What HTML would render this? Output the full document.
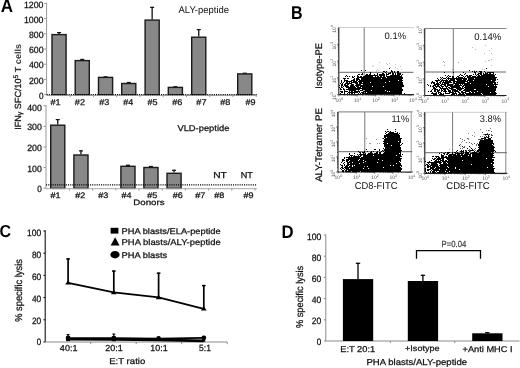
<!DOCTYPE html>
<html><head><meta charset="utf-8"><style>
html,body{margin:0;padding:0;background:#fff;width:520px;height:368px;overflow:hidden}
svg{display:block;filter:grayscale(1) blur(0.3px)}
text{font-family:"Liberation Sans",sans-serif;text-rendering:geometricPrecision;stroke:currentColor;stroke-width:0.25px}text[font-weight]{stroke-width:0}
</style></head><body>
<svg width="520" height="368" viewBox="0 0 520 368">
<rect width="520" height="368" fill="#fff"/>
<text x="0.77" y="12.43" font-size="18.22" textLength="12.29" lengthAdjust="spacingAndGlyphs" fill="#000" color="#000" font-weight="bold" style="stroke-width:0">A</text>
<text x="291.06" y="19.32" font-size="18.66" textLength="11.60" lengthAdjust="spacingAndGlyphs" fill="#000" color="#000" font-weight="bold" style="stroke-width:0">B</text>
<text x="-0.44" y="237.22" font-size="17.39" textLength="11.58" lengthAdjust="spacingAndGlyphs" fill="#000" color="#000" font-weight="bold" style="stroke-width:0">C</text>
<text x="281.41" y="238.22" font-size="18.22" textLength="12.10" lengthAdjust="spacingAndGlyphs" fill="#000" color="#000" font-weight="bold" style="stroke-width:0">D</text>
<line x1="46.6" y1="2.6" x2="46.6" y2="95" stroke="#9a9a9a" stroke-width="1"/>
<line x1="44.1" y1="94.6" x2="46.6" y2="94.6" stroke="#9a9a9a" stroke-width="1"/>
<text x="38.98" y="98.72" font-size="9.11" textLength="4.55" lengthAdjust="spacingAndGlyphs" fill="#111" color="#111">0</text>
<line x1="44.1" y1="79.39999999999999" x2="46.6" y2="79.39999999999999" stroke="#9a9a9a" stroke-width="1"/>
<text x="28.94" y="83.52" font-size="9.11" textLength="14.64" lengthAdjust="spacingAndGlyphs" fill="#111" color="#111">200</text>
<line x1="44.1" y1="64.19999999999999" x2="46.6" y2="64.19999999999999" stroke="#9a9a9a" stroke-width="1"/>
<text x="28.93" y="68.32" font-size="9.11" textLength="14.65" lengthAdjust="spacingAndGlyphs" fill="#111" color="#111">400</text>
<line x1="44.1" y1="49.0" x2="46.6" y2="49.0" stroke="#9a9a9a" stroke-width="1"/>
<text x="28.94" y="53.12" font-size="9.11" textLength="14.64" lengthAdjust="spacingAndGlyphs" fill="#111" color="#111">600</text>
<line x1="44.1" y1="33.8" x2="46.6" y2="33.8" stroke="#9a9a9a" stroke-width="1"/>
<text x="28.94" y="37.92" font-size="9.11" textLength="14.64" lengthAdjust="spacingAndGlyphs" fill="#111" color="#111">800</text>
<line x1="44.1" y1="18.599999999999994" x2="46.6" y2="18.599999999999994" stroke="#9a9a9a" stroke-width="1"/>
<text x="23.88" y="22.72" font-size="9.11" textLength="19.67" lengthAdjust="spacingAndGlyphs" fill="#111" color="#111">1000</text>
<line x1="44.1" y1="3.4000000000000057" x2="46.6" y2="3.4000000000000057" stroke="#9a9a9a" stroke-width="1"/>
<text x="23.88" y="7.53" font-size="9.11" textLength="19.67" lengthAdjust="spacingAndGlyphs" fill="#111" color="#111">1200</text>
<line x1="59.05" y1="32.0" x2="59.05" y2="33.9" stroke="#111" stroke-width="1.3"/>
<line x1="57.05" y1="32.6" x2="61.05" y2="32.6" stroke="#111" stroke-width="1.2"/>
<rect x="52.00" y="34.60" width="14.10" height="60.20" fill="#888" stroke="#1a1a1a" stroke-width="1.4"/>
<rect x="80.25" y="58.80" width="4.00" height="1.60" fill="#111"/>
<rect x="75.20" y="60.60" width="14.10" height="34.20" fill="#888" stroke="#1a1a1a" stroke-width="1.4"/>
<rect x="103.55" y="76.20" width="4.00" height="1.00" fill="#111"/>
<rect x="98.50" y="77.40" width="14.10" height="17.40" fill="#888" stroke="#1a1a1a" stroke-width="1.4"/>
<rect x="126.75" y="81.90" width="4.00" height="1.40" fill="#111"/>
<rect x="121.70" y="83.50" width="14.10" height="11.30" fill="#888" stroke="#1a1a1a" stroke-width="1.4"/>
<line x1="152.15" y1="6.8" x2="152.15" y2="19.4" stroke="#111" stroke-width="1.3"/>
<line x1="150.15" y1="7.3999999999999995" x2="154.15" y2="7.3999999999999995" stroke="#111" stroke-width="1.2"/>
<rect x="145.10" y="20.10" width="14.10" height="74.70" fill="#888" stroke="#1a1a1a" stroke-width="1.4"/>
<rect x="173.35" y="86.10" width="4.00" height="1.10" fill="#111"/>
<rect x="168.30" y="87.40" width="14.10" height="7.40" fill="#888" stroke="#1a1a1a" stroke-width="1.4"/>
<line x1="198.75" y1="29.0" x2="198.75" y2="36.5" stroke="#111" stroke-width="1.3"/>
<line x1="196.75" y1="29.6" x2="200.75" y2="29.6" stroke="#111" stroke-width="1.2"/>
<rect x="191.70" y="37.20" width="14.10" height="57.60" fill="#888" stroke="#1a1a1a" stroke-width="1.4"/>
<rect x="242.75" y="72.60" width="4.00" height="1.10" fill="#111"/>
<rect x="237.70" y="73.90" width="14.10" height="20.90" fill="#888" stroke="#1a1a1a" stroke-width="1.4"/>
<line x1="46.6" y1="95.4" x2="257" y2="95.4" stroke="#a8a8a8" stroke-width="1"/>
<line x1="46.6" y1="94.6" x2="257" y2="94.6" stroke="#000" stroke-width="1.3" stroke-dasharray="1.1 1.1"/>
<line x1="70.2" y1="95" x2="70.2" y2="97" stroke="#999" stroke-width="1"/>
<line x1="93.45" y1="95" x2="93.45" y2="97" stroke="#999" stroke-width="1"/>
<line x1="116.7" y1="95" x2="116.7" y2="97" stroke="#999" stroke-width="1"/>
<line x1="139.95" y1="95" x2="139.95" y2="97" stroke="#999" stroke-width="1"/>
<line x1="163.2" y1="95" x2="163.2" y2="97" stroke="#999" stroke-width="1"/>
<line x1="186.45" y1="95" x2="186.45" y2="97" stroke="#999" stroke-width="1"/>
<line x1="209.7" y1="95" x2="209.7" y2="97" stroke="#999" stroke-width="1"/>
<line x1="232.95" y1="95" x2="232.95" y2="97" stroke="#999" stroke-width="1"/>
<line x1="256.2" y1="95" x2="256.2" y2="97" stroke="#999" stroke-width="1"/>
<text x="50.55" y="104.83" font-size="8.39" textLength="10.12" lengthAdjust="spacingAndGlyphs" fill="#111" color="#111">#1</text>
<text x="74.85" y="104.83" font-size="8.39" textLength="10.12" lengthAdjust="spacingAndGlyphs" fill="#111" color="#111">#2</text>
<text x="99.35" y="104.83" font-size="8.39" textLength="10.07" lengthAdjust="spacingAndGlyphs" fill="#111" color="#111">#3</text>
<text x="123.26" y="104.83" font-size="8.39" textLength="9.93" lengthAdjust="spacingAndGlyphs" fill="#111" color="#111">#4</text>
<text x="147.45" y="104.83" font-size="8.39" textLength="10.03" lengthAdjust="spacingAndGlyphs" fill="#111" color="#111">#5</text>
<text x="172.25" y="104.83" font-size="8.39" textLength="10.07" lengthAdjust="spacingAndGlyphs" fill="#111" color="#111">#6</text>
<text x="196.35" y="104.83" font-size="8.39" textLength="10.12" lengthAdjust="spacingAndGlyphs" fill="#111" color="#111">#7</text>
<text x="220.35" y="104.83" font-size="8.39" textLength="10.03" lengthAdjust="spacingAndGlyphs" fill="#111" color="#111">#8</text>
<text x="245.55" y="104.83" font-size="8.39" textLength="10.07" lengthAdjust="spacingAndGlyphs" fill="#111" color="#111">#9</text>
<text x="178.55" y="13.12" font-size="9.67" textLength="50.50" lengthAdjust="spacingAndGlyphs" fill="#111" color="#111" style="stroke-width:0">ALY-peptide</text>
<line x1="46.0" y1="105" x2="46.0" y2="188.6" stroke="#9a9a9a" stroke-width="1"/>
<line x1="43.4" y1="188.2" x2="46.0" y2="188.2" stroke="#9a9a9a" stroke-width="1"/>
<text x="37.18" y="192.22" font-size="9.11" textLength="4.55" lengthAdjust="spacingAndGlyphs" fill="#111" color="#111">0</text>
<line x1="43.4" y1="167.6" x2="46.0" y2="167.6" stroke="#9a9a9a" stroke-width="1"/>
<text x="27.15" y="171.62" font-size="9.11" textLength="14.64" lengthAdjust="spacingAndGlyphs" fill="#111" color="#111">100</text>
<line x1="43.4" y1="147.0" x2="46.0" y2="147.0" stroke="#9a9a9a" stroke-width="1"/>
<text x="27.14" y="151.02" font-size="9.11" textLength="14.64" lengthAdjust="spacingAndGlyphs" fill="#111" color="#111">200</text>
<line x1="43.4" y1="126.39999999999998" x2="46.0" y2="126.39999999999998" stroke="#9a9a9a" stroke-width="1"/>
<text x="27.14" y="130.42" font-size="9.11" textLength="14.65" lengthAdjust="spacingAndGlyphs" fill="#111" color="#111">300</text>
<line x1="43.4" y1="105.79999999999998" x2="46.0" y2="105.79999999999998" stroke="#9a9a9a" stroke-width="1"/>
<text x="27.13" y="110.92" font-size="9.11" textLength="14.65" lengthAdjust="spacingAndGlyphs" fill="#111" color="#111">400</text>
<line x1="57.75" y1="119.0" x2="57.75" y2="124.5" stroke="#111" stroke-width="1.3"/>
<line x1="55.75" y1="119.6" x2="59.75" y2="119.6" stroke="#111" stroke-width="1.2"/>
<rect x="50.70" y="125.20" width="14.10" height="63.20" fill="#888" stroke="#1a1a1a" stroke-width="1.4"/>
<line x1="80.95" y1="150.3" x2="80.95" y2="154.3" stroke="#111" stroke-width="1.3"/>
<line x1="78.95" y1="150.9" x2="82.95" y2="150.9" stroke="#111" stroke-width="1.2"/>
<rect x="73.90" y="155.00" width="14.10" height="33.40" fill="#888" stroke="#1a1a1a" stroke-width="1.4"/>
<rect x="125.95" y="164.60" width="4.00" height="1.50" fill="#111"/>
<rect x="120.90" y="166.30" width="14.10" height="22.10" fill="#888" stroke="#1a1a1a" stroke-width="1.4"/>
<rect x="148.95" y="165.90" width="4.00" height="1.40" fill="#111"/>
<rect x="143.90" y="167.50" width="14.10" height="20.90" fill="#888" stroke="#1a1a1a" stroke-width="1.4"/>
<line x1="174.05" y1="169.7" x2="174.05" y2="172.6" stroke="#111" stroke-width="1.3"/>
<line x1="172.05" y1="170.29999999999998" x2="176.05" y2="170.29999999999998" stroke="#111" stroke-width="1.2"/>
<rect x="167.00" y="173.30" width="14.10" height="15.10" fill="#888" stroke="#1a1a1a" stroke-width="1.4"/>
<line x1="46.0" y1="188.7" x2="257" y2="188.7" stroke="#a8a8a8" stroke-width="1"/>
<line x1="46.0" y1="184.8" x2="257" y2="184.8" stroke="#000" stroke-width="1.3" stroke-dasharray="1.1 1.1"/>
<line x1="69.4" y1="188.6" x2="69.4" y2="190.6" stroke="#999" stroke-width="1"/>
<line x1="92.60000000000001" y1="188.6" x2="92.60000000000001" y2="190.6" stroke="#999" stroke-width="1"/>
<line x1="115.80000000000001" y1="188.6" x2="115.80000000000001" y2="190.6" stroke="#999" stroke-width="1"/>
<line x1="139.0" y1="188.6" x2="139.0" y2="190.6" stroke="#999" stroke-width="1"/>
<line x1="162.2" y1="188.6" x2="162.2" y2="190.6" stroke="#999" stroke-width="1"/>
<line x1="185.4" y1="188.6" x2="185.4" y2="190.6" stroke="#999" stroke-width="1"/>
<line x1="208.6" y1="188.6" x2="208.6" y2="190.6" stroke="#999" stroke-width="1"/>
<line x1="231.8" y1="188.6" x2="231.8" y2="190.6" stroke="#999" stroke-width="1"/>
<line x1="255.0" y1="188.6" x2="255.0" y2="190.6" stroke="#999" stroke-width="1"/>
<text x="50.45" y="198.22" font-size="8.11" textLength="10.12" lengthAdjust="spacingAndGlyphs" fill="#111" color="#111">#1</text>
<text x="75.25" y="198.22" font-size="8.11" textLength="10.12" lengthAdjust="spacingAndGlyphs" fill="#111" color="#111">#2</text>
<text x="98.35" y="198.22" font-size="8.11" textLength="10.07" lengthAdjust="spacingAndGlyphs" fill="#111" color="#111">#3</text>
<text x="121.56" y="198.22" font-size="8.11" textLength="9.93" lengthAdjust="spacingAndGlyphs" fill="#111" color="#111">#4</text>
<text x="147.35" y="198.22" font-size="8.11" textLength="10.03" lengthAdjust="spacingAndGlyphs" fill="#111" color="#111">#5</text>
<text x="172.65" y="198.22" font-size="8.11" textLength="10.07" lengthAdjust="spacingAndGlyphs" fill="#111" color="#111">#6</text>
<text x="195.25" y="198.22" font-size="8.11" textLength="10.12" lengthAdjust="spacingAndGlyphs" fill="#111" color="#111">#7</text>
<text x="214.15" y="198.22" font-size="8.11" textLength="10.03" lengthAdjust="spacingAndGlyphs" fill="#111" color="#111">#8</text>
<text x="243.55" y="198.22" font-size="8.11" textLength="10.07" lengthAdjust="spacingAndGlyphs" fill="#111" color="#111">#9</text>
<text x="133.33" y="205.43" font-size="7.93" textLength="31.20" lengthAdjust="spacingAndGlyphs" fill="#111" color="#111">Donors</text>
<text x="177.45" y="131.43" font-size="8.52" textLength="51.96" lengthAdjust="spacingAndGlyphs" fill="#111" color="#111">VLD-peptide</text>
<text x="213.18" y="178.03" font-size="8.66" textLength="13.66" lengthAdjust="spacingAndGlyphs" fill="#111" color="#111">NT</text>
<text x="240.67" y="178.03" font-size="8.66" textLength="12.14" lengthAdjust="spacingAndGlyphs" fill="#111" color="#111">NT</text>
<text transform="translate(21.2 129.8) rotate(-90)" font-size="8.9" textLength="85.8" lengthAdjust="spacingAndGlyphs" fill="#111" color="#111">IFN<tspan font-size="7" dy="1.2">γ</tspan><tspan dy="-1.2"> SFC/10</tspan><tspan font-size="6.6" dy="-3.4">5</tspan><tspan dy="3.4" font-weight="bold" fill="#3a3a3a" style="stroke-width:0"> T cells</tspan></text>
<line x1="45.2" y1="230.2" x2="45.2" y2="342.0" stroke="#111" stroke-width="1.1"/>
<line x1="45.2" y1="342.0" x2="227.3" y2="342.0" stroke="#8a8a8a" stroke-width="1"/>
<line x1="43.400000000000006" y1="342.0" x2="45.2" y2="342.0" stroke="#111" stroke-width="1"/>
<text x="36.82" y="345.43" font-size="9.25" textLength="4.41" lengthAdjust="spacingAndGlyphs" fill="#111" color="#111">0</text>
<line x1="43.400000000000006" y1="319.8" x2="45.2" y2="319.8" stroke="#111" stroke-width="1"/>
<text x="31.93" y="323.53" font-size="9.25" textLength="9.32" lengthAdjust="spacingAndGlyphs" fill="#111" color="#111">20</text>
<line x1="43.400000000000006" y1="297.6" x2="45.2" y2="297.6" stroke="#111" stroke-width="1"/>
<text x="31.92" y="301.62" font-size="9.25" textLength="9.33" lengthAdjust="spacingAndGlyphs" fill="#111" color="#111">40</text>
<line x1="43.400000000000006" y1="275.4" x2="45.2" y2="275.4" stroke="#111" stroke-width="1"/>
<text x="31.93" y="279.73" font-size="9.25" textLength="9.32" lengthAdjust="spacingAndGlyphs" fill="#111" color="#111">60</text>
<line x1="43.400000000000006" y1="253.2" x2="45.2" y2="253.2" stroke="#111" stroke-width="1"/>
<text x="31.93" y="257.82" font-size="9.25" textLength="9.32" lengthAdjust="spacingAndGlyphs" fill="#111" color="#111">80</text>
<line x1="43.400000000000006" y1="231.0" x2="45.2" y2="231.0" stroke="#111" stroke-width="1"/>
<text x="27.06" y="235.93" font-size="9.25" textLength="14.21" lengthAdjust="spacingAndGlyphs" fill="#111" color="#111">100</text>
<line x1="90.7" y1="342.0" x2="90.7" y2="344.2" stroke="#8a8a8a" stroke-width="1"/>
<line x1="136.2" y1="342.0" x2="136.2" y2="344.2" stroke="#8a8a8a" stroke-width="1"/>
<line x1="181.7" y1="342.0" x2="181.7" y2="344.2" stroke="#8a8a8a" stroke-width="1"/>
<line x1="227.2" y1="342.0" x2="227.2" y2="344.2" stroke="#8a8a8a" stroke-width="1"/>
<text x="59.87" y="351.12" font-size="8.68" textLength="17.59" lengthAdjust="spacingAndGlyphs" fill="#111" color="#111">40:1</text>
<text x="105.25" y="351.32" font-size="8.82" textLength="17.51" lengthAdjust="spacingAndGlyphs" fill="#111" color="#111">20:1</text>
<text x="150.33" y="351.32" font-size="8.82" textLength="17.32" lengthAdjust="spacingAndGlyphs" fill="#111" color="#111">10:1</text>
<text x="199.06" y="351.32" font-size="8.95" textLength="11.87" lengthAdjust="spacingAndGlyphs" fill="#111" color="#111">5:1</text>
<text x="109.23" y="363.52" font-size="8.52" textLength="36.06" lengthAdjust="spacingAndGlyphs" fill="#111" color="#111">E:T ratio</text>
<text transform="translate(21.63 321.83) rotate(-90)" x="0" y="0" font-size="10.04" textLength="62.74" lengthAdjust="spacingAndGlyphs" fill="#111" color="#111">% specific lysis</text>
<line x1="68.1" y1="258.3" x2="68.1" y2="282.8" stroke="#000" stroke-width="1.7"/>
<line x1="66.3" y1="258.90000000000003" x2="69.89999999999999" y2="258.90000000000003" stroke="#000" stroke-width="1.5"/>
<line x1="113.8" y1="270.5" x2="113.8" y2="292.4" stroke="#000" stroke-width="1.7"/>
<line x1="112.0" y1="271.1" x2="115.6" y2="271.1" stroke="#000" stroke-width="1.5"/>
<line x1="158.6" y1="272.6" x2="158.6" y2="297.4" stroke="#000" stroke-width="1.7"/>
<line x1="156.79999999999998" y1="273.20000000000005" x2="160.4" y2="273.20000000000005" stroke="#000" stroke-width="1.5"/>
<line x1="203.8" y1="285.0" x2="203.8" y2="308.8" stroke="#000" stroke-width="1.7"/>
<line x1="202.0" y1="285.6" x2="205.60000000000002" y2="285.6" stroke="#000" stroke-width="1.5"/>
<polyline points="68.1,282.8 113.8,292.4 158.6,297.4 203.8,308.8" fill="none" stroke="#000" stroke-width="1.8"/>
<polygon points="65.3,284.6 70.89999999999999,284.6 68.1,280.2" fill="#000"/>
<polygon points="111.0,294.2 116.6,294.2 113.8,289.79999999999995" fill="#000"/>
<polygon points="155.79999999999998,299.2 161.4,299.2 158.6,294.79999999999995" fill="#000"/>
<polygon points="201.0,310.6 206.60000000000002,310.6 203.8,306.2" fill="#000"/>
<polyline points="68.1,339.3 113.8,339.4 158.6,339.9 203.8,340.9" fill="none" stroke="#000" stroke-width="2.6"/>
<polyline points="68.1,338.0 113.8,338.1 158.6,338.6 203.8,337.8" fill="none" stroke="#000" stroke-width="1.7"/>
<line x1="68.1" y1="334.2" x2="68.1" y2="339" stroke="#000" stroke-width="1.2"/>
<line x1="66.6" y1="334.59999999999997" x2="69.6" y2="334.59999999999997" stroke="#000" stroke-width="1"/>
<line x1="113.8" y1="333.7" x2="113.8" y2="339" stroke="#000" stroke-width="1.2"/>
<line x1="112.3" y1="334.09999999999997" x2="115.3" y2="334.09999999999997" stroke="#000" stroke-width="1"/>
<line x1="158.6" y1="336.5" x2="158.6" y2="339" stroke="#000" stroke-width="1.2"/>
<line x1="157.1" y1="336.9" x2="160.1" y2="336.9" stroke="#000" stroke-width="1"/>
<line x1="203.8" y1="336" x2="203.8" y2="339" stroke="#000" stroke-width="1.2"/>
<line x1="202.3" y1="336.4" x2="205.3" y2="336.4" stroke="#000" stroke-width="1"/>
<rect x="66.10" y="336.50" width="4.00" height="4.60" fill="#000"/>
<rect x="111.80" y="336.60" width="4.00" height="4.60" fill="#000"/>
<rect x="202.40" y="339.10" width="2.80" height="2.60" fill="#000"/>
<circle cx="68.1" cy="338.0" r="2.4" fill="#000"/>
<circle cx="113.8" cy="338.1" r="2.4" fill="#000"/>
<circle cx="158.6" cy="338.6" r="2.4" fill="#000"/>
<circle cx="203.8" cy="337.8" r="2.4" fill="#000"/>
<rect x="110.60" y="227.80" width="7.80" height="5.80" fill="#000"/>
<text x="121.56" y="233.53" font-size="8.24" textLength="99.09" lengthAdjust="spacingAndGlyphs" fill="#111" color="#111">PHA blasts/ELA-peptide</text>
<polygon points="110.6,245.4 119.6,245.4 115.1,237.3" fill="#000"/>
<text x="121.55" y="245.32" font-size="8.38" textLength="99.10" lengthAdjust="spacingAndGlyphs" fill="#111" color="#111">PHA blasts/ALY-peptide</text>
<ellipse cx="115" cy="254.7" rx="4.6" ry="3.7" fill="#000"/>
<text x="121.55" y="257.82" font-size="8.24" textLength="45.69" lengthAdjust="spacingAndGlyphs" fill="#111" color="#111">PHA blasts</text>
<line x1="325.8" y1="234.6" x2="325.8" y2="341.0" stroke="#8a8a8a" stroke-width="1"/>
<line x1="325.8" y1="341.0" x2="519.5" y2="341.0" stroke="#8a8a8a" stroke-width="1"/>
<line x1="323.8" y1="341.0" x2="325.8" y2="341.0" stroke="#8a8a8a" stroke-width="1"/>
<text x="316.83" y="344.62" font-size="9.25" textLength="4.51" lengthAdjust="spacingAndGlyphs" fill="#111" color="#111">0</text>
<line x1="323.8" y1="319.8" x2="325.8" y2="319.8" stroke="#8a8a8a" stroke-width="1"/>
<text x="311.85" y="323.69" font-size="9.25" textLength="9.51" lengthAdjust="spacingAndGlyphs" fill="#111" color="#111">20</text>
<line x1="323.8" y1="298.6" x2="325.8" y2="298.6" stroke="#8a8a8a" stroke-width="1"/>
<text x="311.84" y="302.75" font-size="9.25" textLength="9.52" lengthAdjust="spacingAndGlyphs" fill="#111" color="#111">40</text>
<line x1="323.8" y1="277.4" x2="325.8" y2="277.4" stroke="#8a8a8a" stroke-width="1"/>
<text x="311.85" y="281.81" font-size="9.25" textLength="9.51" lengthAdjust="spacingAndGlyphs" fill="#111" color="#111">60</text>
<line x1="323.8" y1="256.2" x2="325.8" y2="256.2" stroke="#8a8a8a" stroke-width="1"/>
<text x="311.85" y="260.87" font-size="9.25" textLength="9.51" lengthAdjust="spacingAndGlyphs" fill="#111" color="#111">80</text>
<line x1="323.8" y1="235.0" x2="325.8" y2="235.0" stroke="#8a8a8a" stroke-width="1"/>
<text x="306.89" y="239.93" font-size="9.25" textLength="14.49" lengthAdjust="spacingAndGlyphs" fill="#111" color="#111">100</text>
<line x1="358.0" y1="262.8" x2="358.0" y2="279.1" stroke="#000" stroke-width="1.3"/>
<line x1="355.8" y1="263.3" x2="360.2" y2="263.3" stroke="#000" stroke-width="1.2"/>
<rect x="342.90" y="279.10" width="30.30" height="61.90" fill="#000"/>
<line x1="422.90000000000003" y1="274.8" x2="422.90000000000003" y2="281.0" stroke="#000" stroke-width="1.3"/>
<line x1="420.70000000000005" y1="275.3" x2="425.1" y2="275.3" stroke="#000" stroke-width="1.2"/>
<rect x="407.80" y="281.00" width="30.30" height="60.00" fill="#000"/>
<line x1="487.3" y1="332.2" x2="487.3" y2="333.3" stroke="#000" stroke-width="1.3"/>
<line x1="485.1" y1="332.7" x2="489.5" y2="332.7" stroke="#000" stroke-width="1.2"/>
<rect x="472.20" y="333.30" width="30.30" height="7.70" fill="#000"/>
<line x1="390.3" y1="341.0" x2="390.3" y2="343.0" stroke="#8a8a8a" stroke-width="1"/>
<line x1="454.8" y1="341.0" x2="454.8" y2="343.0" stroke="#8a8a8a" stroke-width="1"/>
<text x="340.26" y="351.62" font-size="8.54" textLength="34.92" lengthAdjust="spacingAndGlyphs" fill="#111" color="#111">E:T 20:1</text>
<text x="405.05" y="351.23" font-size="8.08" textLength="34.59" lengthAdjust="spacingAndGlyphs" fill="#111" color="#111">+Isotype</text>
<text x="462.54" y="351.52" font-size="8.38" textLength="50.02" lengthAdjust="spacingAndGlyphs" fill="#111" color="#111">+Anti MHC I</text>
<text x="366.43" y="365.12" font-size="8.66" textLength="100.72" lengthAdjust="spacingAndGlyphs" fill="#111" color="#111">PHA blasts/ALY-peptide</text>
<text transform="translate(303.13 328.12) rotate(-90)" x="0" y="0" font-size="9.90" textLength="62.34" lengthAdjust="spacingAndGlyphs" fill="#111" color="#111">% specific lysis</text>
<polyline points="416.5,258.8 416.5,250.6 480.5,250.6 480.5,258.8" fill="none" stroke="#000" stroke-width="1.3"/>
<text x="441.58" y="247.03" font-size="8.82" textLength="24.67" lengthAdjust="spacingAndGlyphs" fill="#444" color="#444">P=0.04</text>
<line x1="338.8" y1="27.5" x2="414.0" y2="27.5" stroke="#d0d0d0" stroke-width="1"/>
<line x1="338.8" y1="27.5" x2="338.8" y2="94.7" stroke="#333" stroke-width="1.2"/>
<line x1="338.8" y1="94.7" x2="414.0" y2="94.7" stroke="#222" stroke-width="1.2"/>
<line x1="364.2" y1="27.5" x2="364.2" y2="94.7" stroke="#777" stroke-width="1"/>
<line x1="338.8" y1="72.3" x2="413.5" y2="72.3" stroke="#666" stroke-width="1"/>
<line x1="338.80" y1="94.7" x2="338.80" y2="96.5" stroke="#222" stroke-width="0.6"/>
<line x1="337.0" y1="94.70" x2="338.8" y2="94.70" stroke="#222" stroke-width="0.6"/>
<line x1="344.35" y1="94.7" x2="344.35" y2="95.7" stroke="#222" stroke-width="0.6"/>
<line x1="337.8" y1="89.64" x2="338.8" y2="89.64" stroke="#222" stroke-width="0.6"/>
<line x1="347.59" y1="94.7" x2="347.59" y2="95.7" stroke="#222" stroke-width="0.6"/>
<line x1="337.8" y1="86.68" x2="338.8" y2="86.68" stroke="#222" stroke-width="0.6"/>
<line x1="349.89" y1="94.7" x2="349.89" y2="95.7" stroke="#222" stroke-width="0.6"/>
<line x1="337.8" y1="84.59" x2="338.8" y2="84.59" stroke="#222" stroke-width="0.6"/>
<line x1="351.68" y1="94.7" x2="351.68" y2="95.7" stroke="#222" stroke-width="0.6"/>
<line x1="337.8" y1="82.96" x2="338.8" y2="82.96" stroke="#222" stroke-width="0.6"/>
<line x1="353.14" y1="94.7" x2="353.14" y2="95.7" stroke="#222" stroke-width="0.6"/>
<line x1="337.8" y1="81.63" x2="338.8" y2="81.63" stroke="#222" stroke-width="0.6"/>
<line x1="354.37" y1="94.7" x2="354.37" y2="95.7" stroke="#222" stroke-width="0.6"/>
<line x1="337.8" y1="80.50" x2="338.8" y2="80.50" stroke="#222" stroke-width="0.6"/>
<line x1="355.44" y1="94.7" x2="355.44" y2="95.7" stroke="#222" stroke-width="0.6"/>
<line x1="337.8" y1="79.53" x2="338.8" y2="79.53" stroke="#222" stroke-width="0.6"/>
<line x1="356.38" y1="94.7" x2="356.38" y2="95.7" stroke="#222" stroke-width="0.6"/>
<line x1="337.8" y1="78.67" x2="338.8" y2="78.67" stroke="#222" stroke-width="0.6"/>
<line x1="357.23" y1="94.7" x2="357.23" y2="96.5" stroke="#222" stroke-width="0.6"/>
<line x1="337.0" y1="77.90" x2="338.8" y2="77.90" stroke="#222" stroke-width="0.6"/>
<line x1="362.77" y1="94.7" x2="362.77" y2="95.7" stroke="#222" stroke-width="0.6"/>
<line x1="337.8" y1="72.84" x2="338.8" y2="72.84" stroke="#222" stroke-width="0.6"/>
<line x1="366.02" y1="94.7" x2="366.02" y2="95.7" stroke="#222" stroke-width="0.6"/>
<line x1="337.8" y1="69.88" x2="338.8" y2="69.88" stroke="#222" stroke-width="0.6"/>
<line x1="368.32" y1="94.7" x2="368.32" y2="95.7" stroke="#222" stroke-width="0.6"/>
<line x1="337.8" y1="67.79" x2="338.8" y2="67.79" stroke="#222" stroke-width="0.6"/>
<line x1="370.10" y1="94.7" x2="370.10" y2="95.7" stroke="#222" stroke-width="0.6"/>
<line x1="337.8" y1="66.16" x2="338.8" y2="66.16" stroke="#222" stroke-width="0.6"/>
<line x1="371.56" y1="94.7" x2="371.56" y2="95.7" stroke="#222" stroke-width="0.6"/>
<line x1="337.8" y1="64.83" x2="338.8" y2="64.83" stroke="#222" stroke-width="0.6"/>
<line x1="372.80" y1="94.7" x2="372.80" y2="95.7" stroke="#222" stroke-width="0.6"/>
<line x1="337.8" y1="63.70" x2="338.8" y2="63.70" stroke="#222" stroke-width="0.6"/>
<line x1="373.86" y1="94.7" x2="373.86" y2="95.7" stroke="#222" stroke-width="0.6"/>
<line x1="337.8" y1="62.73" x2="338.8" y2="62.73" stroke="#222" stroke-width="0.6"/>
<line x1="374.81" y1="94.7" x2="374.81" y2="95.7" stroke="#222" stroke-width="0.6"/>
<line x1="337.8" y1="61.87" x2="338.8" y2="61.87" stroke="#222" stroke-width="0.6"/>
<line x1="375.65" y1="94.7" x2="375.65" y2="96.5" stroke="#222" stroke-width="0.6"/>
<line x1="337.0" y1="61.10" x2="338.8" y2="61.10" stroke="#222" stroke-width="0.6"/>
<line x1="381.20" y1="94.7" x2="381.20" y2="95.7" stroke="#222" stroke-width="0.6"/>
<line x1="337.8" y1="56.04" x2="338.8" y2="56.04" stroke="#222" stroke-width="0.6"/>
<line x1="384.44" y1="94.7" x2="384.44" y2="95.7" stroke="#222" stroke-width="0.6"/>
<line x1="337.8" y1="53.08" x2="338.8" y2="53.08" stroke="#222" stroke-width="0.6"/>
<line x1="386.74" y1="94.7" x2="386.74" y2="95.7" stroke="#222" stroke-width="0.6"/>
<line x1="337.8" y1="50.99" x2="338.8" y2="50.99" stroke="#222" stroke-width="0.6"/>
<line x1="388.53" y1="94.7" x2="388.53" y2="95.7" stroke="#222" stroke-width="0.6"/>
<line x1="337.8" y1="49.36" x2="338.8" y2="49.36" stroke="#222" stroke-width="0.6"/>
<line x1="389.99" y1="94.7" x2="389.99" y2="95.7" stroke="#222" stroke-width="0.6"/>
<line x1="337.8" y1="48.03" x2="338.8" y2="48.03" stroke="#222" stroke-width="0.6"/>
<line x1="391.22" y1="94.7" x2="391.22" y2="95.7" stroke="#222" stroke-width="0.6"/>
<line x1="337.8" y1="46.90" x2="338.8" y2="46.90" stroke="#222" stroke-width="0.6"/>
<line x1="392.29" y1="94.7" x2="392.29" y2="95.7" stroke="#222" stroke-width="0.6"/>
<line x1="337.8" y1="45.93" x2="338.8" y2="45.93" stroke="#222" stroke-width="0.6"/>
<line x1="393.23" y1="94.7" x2="393.23" y2="95.7" stroke="#222" stroke-width="0.6"/>
<line x1="337.8" y1="45.07" x2="338.8" y2="45.07" stroke="#222" stroke-width="0.6"/>
<line x1="394.07" y1="94.7" x2="394.07" y2="96.5" stroke="#222" stroke-width="0.6"/>
<line x1="337.0" y1="44.30" x2="338.8" y2="44.30" stroke="#222" stroke-width="0.6"/>
<line x1="399.62" y1="94.7" x2="399.62" y2="95.7" stroke="#222" stroke-width="0.6"/>
<line x1="337.8" y1="39.24" x2="338.8" y2="39.24" stroke="#222" stroke-width="0.6"/>
<line x1="402.87" y1="94.7" x2="402.87" y2="95.7" stroke="#222" stroke-width="0.6"/>
<line x1="337.8" y1="36.28" x2="338.8" y2="36.28" stroke="#222" stroke-width="0.6"/>
<line x1="405.17" y1="94.7" x2="405.17" y2="95.7" stroke="#222" stroke-width="0.6"/>
<line x1="337.8" y1="34.19" x2="338.8" y2="34.19" stroke="#222" stroke-width="0.6"/>
<line x1="406.95" y1="94.7" x2="406.95" y2="95.7" stroke="#222" stroke-width="0.6"/>
<line x1="337.8" y1="32.56" x2="338.8" y2="32.56" stroke="#222" stroke-width="0.6"/>
<line x1="408.41" y1="94.7" x2="408.41" y2="95.7" stroke="#222" stroke-width="0.6"/>
<line x1="337.8" y1="31.23" x2="338.8" y2="31.23" stroke="#222" stroke-width="0.6"/>
<line x1="409.65" y1="94.7" x2="409.65" y2="95.7" stroke="#222" stroke-width="0.6"/>
<line x1="337.8" y1="30.10" x2="338.8" y2="30.10" stroke="#222" stroke-width="0.6"/>
<line x1="410.71" y1="94.7" x2="410.71" y2="95.7" stroke="#222" stroke-width="0.6"/>
<line x1="337.8" y1="29.13" x2="338.8" y2="29.13" stroke="#222" stroke-width="0.6"/>
<line x1="411.66" y1="94.7" x2="411.66" y2="95.7" stroke="#222" stroke-width="0.6"/>
<line x1="337.8" y1="28.27" x2="338.8" y2="28.27" stroke="#222" stroke-width="0.6"/>
<text x="339.20" y="101.7" font-size="5.0" text-anchor="middle" fill="#555" stroke-width="0" style="stroke-width:0">10<tspan font-size="3.7" dy="-2.2">0</tspan></text>
<text transform="translate(335.60 96.20) rotate(-90)" font-size="5.0" text-anchor="middle" fill="#555" stroke-width="0" style="stroke-width:0">10<tspan font-size="3.7" dy="-2.2">0</tspan></text>
<text x="357.62" y="101.7" font-size="5.0" text-anchor="middle" fill="#555" stroke-width="0" style="stroke-width:0">10<tspan font-size="3.7" dy="-2.2">1</tspan></text>
<text transform="translate(335.60 79.40) rotate(-90)" font-size="5.0" text-anchor="middle" fill="#555" stroke-width="0" style="stroke-width:0">10<tspan font-size="3.7" dy="-2.2">1</tspan></text>
<text x="376.05" y="101.7" font-size="5.0" text-anchor="middle" fill="#555" stroke-width="0" style="stroke-width:0">10<tspan font-size="3.7" dy="-2.2">2</tspan></text>
<text transform="translate(335.60 62.60) rotate(-90)" font-size="5.0" text-anchor="middle" fill="#555" stroke-width="0" style="stroke-width:0">10<tspan font-size="3.7" dy="-2.2">2</tspan></text>
<text x="394.47" y="101.7" font-size="5.0" text-anchor="middle" fill="#555" stroke-width="0" style="stroke-width:0">10<tspan font-size="3.7" dy="-2.2">3</tspan></text>
<text transform="translate(335.60 45.80) rotate(-90)" font-size="5.0" text-anchor="middle" fill="#555" stroke-width="0" style="stroke-width:0">10<tspan font-size="3.7" dy="-2.2">3</tspan></text>
<text x="412.90" y="101.7" font-size="5.0" text-anchor="middle" fill="#555" stroke-width="0" style="stroke-width:0">10<tspan font-size="3.7" dy="-2.2">4</tspan></text>
<text transform="translate(335.60 29.00) rotate(-90)" font-size="5.0" text-anchor="middle" fill="#555" stroke-width="0" style="stroke-width:0">10<tspan font-size="3.7" dy="-2.2">4</tspan></text>
<line x1="424.7" y1="28.5" x2="506.5" y2="28.5" stroke="#888" stroke-width="1"/>
<line x1="424.7" y1="28.5" x2="424.7" y2="95.5" stroke="#333" stroke-width="1.2"/>
<line x1="424.7" y1="95.5" x2="506.5" y2="95.5" stroke="#222" stroke-width="1.2"/>
<line x1="453.3" y1="28.5" x2="453.3" y2="95.5" stroke="#777" stroke-width="1"/>
<line x1="424.7" y1="72.0" x2="506.0" y2="72.0" stroke="#666" stroke-width="1"/>
<line x1="424.70" y1="95.5" x2="424.70" y2="97.3" stroke="#222" stroke-width="0.6"/>
<line x1="422.9" y1="95.50" x2="424.7" y2="95.50" stroke="#222" stroke-width="0.6"/>
<line x1="430.74" y1="95.5" x2="430.74" y2="96.5" stroke="#222" stroke-width="0.6"/>
<line x1="423.7" y1="90.46" x2="424.7" y2="90.46" stroke="#222" stroke-width="0.6"/>
<line x1="434.28" y1="95.5" x2="434.28" y2="96.5" stroke="#222" stroke-width="0.6"/>
<line x1="423.7" y1="87.51" x2="424.7" y2="87.51" stroke="#222" stroke-width="0.6"/>
<line x1="436.79" y1="95.5" x2="436.79" y2="96.5" stroke="#222" stroke-width="0.6"/>
<line x1="423.7" y1="85.42" x2="424.7" y2="85.42" stroke="#222" stroke-width="0.6"/>
<line x1="438.73" y1="95.5" x2="438.73" y2="96.5" stroke="#222" stroke-width="0.6"/>
<line x1="423.7" y1="83.79" x2="424.7" y2="83.79" stroke="#222" stroke-width="0.6"/>
<line x1="440.32" y1="95.5" x2="440.32" y2="96.5" stroke="#222" stroke-width="0.6"/>
<line x1="423.7" y1="82.47" x2="424.7" y2="82.47" stroke="#222" stroke-width="0.6"/>
<line x1="441.67" y1="95.5" x2="441.67" y2="96.5" stroke="#222" stroke-width="0.6"/>
<line x1="423.7" y1="81.34" x2="424.7" y2="81.34" stroke="#222" stroke-width="0.6"/>
<line x1="442.83" y1="95.5" x2="442.83" y2="96.5" stroke="#222" stroke-width="0.6"/>
<line x1="423.7" y1="80.37" x2="424.7" y2="80.37" stroke="#222" stroke-width="0.6"/>
<line x1="443.86" y1="95.5" x2="443.86" y2="96.5" stroke="#222" stroke-width="0.6"/>
<line x1="423.7" y1="79.52" x2="424.7" y2="79.52" stroke="#222" stroke-width="0.6"/>
<line x1="444.77" y1="95.5" x2="444.77" y2="97.3" stroke="#222" stroke-width="0.6"/>
<line x1="422.9" y1="78.75" x2="424.7" y2="78.75" stroke="#222" stroke-width="0.6"/>
<line x1="450.82" y1="95.5" x2="450.82" y2="96.5" stroke="#222" stroke-width="0.6"/>
<line x1="423.7" y1="73.71" x2="424.7" y2="73.71" stroke="#222" stroke-width="0.6"/>
<line x1="454.35" y1="95.5" x2="454.35" y2="96.5" stroke="#222" stroke-width="0.6"/>
<line x1="423.7" y1="70.76" x2="424.7" y2="70.76" stroke="#222" stroke-width="0.6"/>
<line x1="456.86" y1="95.5" x2="456.86" y2="96.5" stroke="#222" stroke-width="0.6"/>
<line x1="423.7" y1="68.67" x2="424.7" y2="68.67" stroke="#222" stroke-width="0.6"/>
<line x1="458.81" y1="95.5" x2="458.81" y2="96.5" stroke="#222" stroke-width="0.6"/>
<line x1="423.7" y1="67.04" x2="424.7" y2="67.04" stroke="#222" stroke-width="0.6"/>
<line x1="460.40" y1="95.5" x2="460.40" y2="96.5" stroke="#222" stroke-width="0.6"/>
<line x1="423.7" y1="65.72" x2="424.7" y2="65.72" stroke="#222" stroke-width="0.6"/>
<line x1="461.74" y1="95.5" x2="461.74" y2="96.5" stroke="#222" stroke-width="0.6"/>
<line x1="423.7" y1="64.59" x2="424.7" y2="64.59" stroke="#222" stroke-width="0.6"/>
<line x1="462.90" y1="95.5" x2="462.90" y2="96.5" stroke="#222" stroke-width="0.6"/>
<line x1="423.7" y1="63.62" x2="424.7" y2="63.62" stroke="#222" stroke-width="0.6"/>
<line x1="463.93" y1="95.5" x2="463.93" y2="96.5" stroke="#222" stroke-width="0.6"/>
<line x1="423.7" y1="62.77" x2="424.7" y2="62.77" stroke="#222" stroke-width="0.6"/>
<line x1="464.85" y1="95.5" x2="464.85" y2="97.3" stroke="#222" stroke-width="0.6"/>
<line x1="422.9" y1="62.00" x2="424.7" y2="62.00" stroke="#222" stroke-width="0.6"/>
<line x1="470.89" y1="95.5" x2="470.89" y2="96.5" stroke="#222" stroke-width="0.6"/>
<line x1="423.7" y1="56.96" x2="424.7" y2="56.96" stroke="#222" stroke-width="0.6"/>
<line x1="474.43" y1="95.5" x2="474.43" y2="96.5" stroke="#222" stroke-width="0.6"/>
<line x1="423.7" y1="54.01" x2="424.7" y2="54.01" stroke="#222" stroke-width="0.6"/>
<line x1="476.94" y1="95.5" x2="476.94" y2="96.5" stroke="#222" stroke-width="0.6"/>
<line x1="423.7" y1="51.92" x2="424.7" y2="51.92" stroke="#222" stroke-width="0.6"/>
<line x1="478.88" y1="95.5" x2="478.88" y2="96.5" stroke="#222" stroke-width="0.6"/>
<line x1="423.7" y1="50.29" x2="424.7" y2="50.29" stroke="#222" stroke-width="0.6"/>
<line x1="480.47" y1="95.5" x2="480.47" y2="96.5" stroke="#222" stroke-width="0.6"/>
<line x1="423.7" y1="48.97" x2="424.7" y2="48.97" stroke="#222" stroke-width="0.6"/>
<line x1="481.82" y1="95.5" x2="481.82" y2="96.5" stroke="#222" stroke-width="0.6"/>
<line x1="423.7" y1="47.84" x2="424.7" y2="47.84" stroke="#222" stroke-width="0.6"/>
<line x1="482.98" y1="95.5" x2="482.98" y2="96.5" stroke="#222" stroke-width="0.6"/>
<line x1="423.7" y1="46.87" x2="424.7" y2="46.87" stroke="#222" stroke-width="0.6"/>
<line x1="484.01" y1="95.5" x2="484.01" y2="96.5" stroke="#222" stroke-width="0.6"/>
<line x1="423.7" y1="46.02" x2="424.7" y2="46.02" stroke="#222" stroke-width="0.6"/>
<line x1="484.93" y1="95.5" x2="484.93" y2="97.3" stroke="#222" stroke-width="0.6"/>
<line x1="422.9" y1="45.25" x2="424.7" y2="45.25" stroke="#222" stroke-width="0.6"/>
<line x1="490.97" y1="95.5" x2="490.97" y2="96.5" stroke="#222" stroke-width="0.6"/>
<line x1="423.7" y1="40.21" x2="424.7" y2="40.21" stroke="#222" stroke-width="0.6"/>
<line x1="494.50" y1="95.5" x2="494.50" y2="96.5" stroke="#222" stroke-width="0.6"/>
<line x1="423.7" y1="37.26" x2="424.7" y2="37.26" stroke="#222" stroke-width="0.6"/>
<line x1="497.01" y1="95.5" x2="497.01" y2="96.5" stroke="#222" stroke-width="0.6"/>
<line x1="423.7" y1="35.17" x2="424.7" y2="35.17" stroke="#222" stroke-width="0.6"/>
<line x1="498.96" y1="95.5" x2="498.96" y2="96.5" stroke="#222" stroke-width="0.6"/>
<line x1="423.7" y1="33.54" x2="424.7" y2="33.54" stroke="#222" stroke-width="0.6"/>
<line x1="500.55" y1="95.5" x2="500.55" y2="96.5" stroke="#222" stroke-width="0.6"/>
<line x1="423.7" y1="32.22" x2="424.7" y2="32.22" stroke="#222" stroke-width="0.6"/>
<line x1="501.89" y1="95.5" x2="501.89" y2="96.5" stroke="#222" stroke-width="0.6"/>
<line x1="423.7" y1="31.09" x2="424.7" y2="31.09" stroke="#222" stroke-width="0.6"/>
<line x1="503.05" y1="95.5" x2="503.05" y2="96.5" stroke="#222" stroke-width="0.6"/>
<line x1="423.7" y1="30.12" x2="424.7" y2="30.12" stroke="#222" stroke-width="0.6"/>
<line x1="504.08" y1="95.5" x2="504.08" y2="96.5" stroke="#222" stroke-width="0.6"/>
<line x1="423.7" y1="29.27" x2="424.7" y2="29.27" stroke="#222" stroke-width="0.6"/>
<text x="425.10" y="102.5" font-size="5.0" text-anchor="middle" fill="#555" stroke-width="0" style="stroke-width:0">10<tspan font-size="3.7" dy="-2.2">0</tspan></text>
<text transform="translate(421.50 97.00) rotate(-90)" font-size="5.0" text-anchor="middle" fill="#555" stroke-width="0" style="stroke-width:0">10<tspan font-size="3.7" dy="-2.2">0</tspan></text>
<text x="445.17" y="102.5" font-size="5.0" text-anchor="middle" fill="#555" stroke-width="0" style="stroke-width:0">10<tspan font-size="3.7" dy="-2.2">1</tspan></text>
<text transform="translate(421.50 80.25) rotate(-90)" font-size="5.0" text-anchor="middle" fill="#555" stroke-width="0" style="stroke-width:0">10<tspan font-size="3.7" dy="-2.2">1</tspan></text>
<text x="465.25" y="102.5" font-size="5.0" text-anchor="middle" fill="#555" stroke-width="0" style="stroke-width:0">10<tspan font-size="3.7" dy="-2.2">2</tspan></text>
<text transform="translate(421.50 63.50) rotate(-90)" font-size="5.0" text-anchor="middle" fill="#555" stroke-width="0" style="stroke-width:0">10<tspan font-size="3.7" dy="-2.2">2</tspan></text>
<text x="485.32" y="102.5" font-size="5.0" text-anchor="middle" fill="#555" stroke-width="0" style="stroke-width:0">10<tspan font-size="3.7" dy="-2.2">3</tspan></text>
<text transform="translate(421.50 46.75) rotate(-90)" font-size="5.0" text-anchor="middle" fill="#555" stroke-width="0" style="stroke-width:0">10<tspan font-size="3.7" dy="-2.2">3</tspan></text>
<text x="505.40" y="102.5" font-size="5.0" text-anchor="middle" fill="#555" stroke-width="0" style="stroke-width:0">10<tspan font-size="3.7" dy="-2.2">4</tspan></text>
<text transform="translate(421.50 30.00) rotate(-90)" font-size="5.0" text-anchor="middle" fill="#555" stroke-width="0" style="stroke-width:0">10<tspan font-size="3.7" dy="-2.2">4</tspan></text>
<line x1="338.0" y1="111.9" x2="412.7" y2="111.9" stroke="#777" stroke-width="1"/>
<line x1="411.2" y1="111.9" x2="411.2" y2="172.0" stroke="#999" stroke-width="1"/>
<line x1="338.0" y1="111.9" x2="338.0" y2="172.0" stroke="#333" stroke-width="1.2"/>
<line x1="338.0" y1="172.0" x2="412.7" y2="172.0" stroke="#222" stroke-width="1.2"/>
<line x1="364.8" y1="111.9" x2="364.8" y2="172.0" stroke="#777" stroke-width="1"/>
<line x1="338.0" y1="151.7" x2="412.2" y2="151.7" stroke="#666" stroke-width="1"/>
<line x1="338.00" y1="172.0" x2="338.00" y2="173.8" stroke="#222" stroke-width="0.6"/>
<line x1="336.2" y1="172.00" x2="338.0" y2="172.00" stroke="#222" stroke-width="0.6"/>
<line x1="343.51" y1="172.0" x2="343.51" y2="173.0" stroke="#222" stroke-width="0.6"/>
<line x1="337.0" y1="167.48" x2="338.0" y2="167.48" stroke="#222" stroke-width="0.6"/>
<line x1="346.73" y1="172.0" x2="346.73" y2="173.0" stroke="#222" stroke-width="0.6"/>
<line x1="337.0" y1="164.83" x2="338.0" y2="164.83" stroke="#222" stroke-width="0.6"/>
<line x1="349.02" y1="172.0" x2="349.02" y2="173.0" stroke="#222" stroke-width="0.6"/>
<line x1="337.0" y1="162.95" x2="338.0" y2="162.95" stroke="#222" stroke-width="0.6"/>
<line x1="350.79" y1="172.0" x2="350.79" y2="173.0" stroke="#222" stroke-width="0.6"/>
<line x1="337.0" y1="161.50" x2="338.0" y2="161.50" stroke="#222" stroke-width="0.6"/>
<line x1="352.24" y1="172.0" x2="352.24" y2="173.0" stroke="#222" stroke-width="0.6"/>
<line x1="337.0" y1="160.31" x2="338.0" y2="160.31" stroke="#222" stroke-width="0.6"/>
<line x1="353.47" y1="172.0" x2="353.47" y2="173.0" stroke="#222" stroke-width="0.6"/>
<line x1="337.0" y1="159.30" x2="338.0" y2="159.30" stroke="#222" stroke-width="0.6"/>
<line x1="354.53" y1="172.0" x2="354.53" y2="173.0" stroke="#222" stroke-width="0.6"/>
<line x1="337.0" y1="158.43" x2="338.0" y2="158.43" stroke="#222" stroke-width="0.6"/>
<line x1="355.46" y1="172.0" x2="355.46" y2="173.0" stroke="#222" stroke-width="0.6"/>
<line x1="337.0" y1="157.66" x2="338.0" y2="157.66" stroke="#222" stroke-width="0.6"/>
<line x1="356.30" y1="172.0" x2="356.30" y2="173.8" stroke="#222" stroke-width="0.6"/>
<line x1="336.2" y1="156.97" x2="338.0" y2="156.97" stroke="#222" stroke-width="0.6"/>
<line x1="361.81" y1="172.0" x2="361.81" y2="173.0" stroke="#222" stroke-width="0.6"/>
<line x1="337.0" y1="152.45" x2="338.0" y2="152.45" stroke="#222" stroke-width="0.6"/>
<line x1="365.03" y1="172.0" x2="365.03" y2="173.0" stroke="#222" stroke-width="0.6"/>
<line x1="337.0" y1="149.81" x2="338.0" y2="149.81" stroke="#222" stroke-width="0.6"/>
<line x1="367.32" y1="172.0" x2="367.32" y2="173.0" stroke="#222" stroke-width="0.6"/>
<line x1="337.0" y1="147.93" x2="338.0" y2="147.93" stroke="#222" stroke-width="0.6"/>
<line x1="369.09" y1="172.0" x2="369.09" y2="173.0" stroke="#222" stroke-width="0.6"/>
<line x1="337.0" y1="146.47" x2="338.0" y2="146.47" stroke="#222" stroke-width="0.6"/>
<line x1="370.54" y1="172.0" x2="370.54" y2="173.0" stroke="#222" stroke-width="0.6"/>
<line x1="337.0" y1="145.28" x2="338.0" y2="145.28" stroke="#222" stroke-width="0.6"/>
<line x1="371.77" y1="172.0" x2="371.77" y2="173.0" stroke="#222" stroke-width="0.6"/>
<line x1="337.0" y1="144.28" x2="338.0" y2="144.28" stroke="#222" stroke-width="0.6"/>
<line x1="372.83" y1="172.0" x2="372.83" y2="173.0" stroke="#222" stroke-width="0.6"/>
<line x1="337.0" y1="143.41" x2="338.0" y2="143.41" stroke="#222" stroke-width="0.6"/>
<line x1="373.76" y1="172.0" x2="373.76" y2="173.0" stroke="#222" stroke-width="0.6"/>
<line x1="337.0" y1="142.64" x2="338.0" y2="142.64" stroke="#222" stroke-width="0.6"/>
<line x1="374.60" y1="172.0" x2="374.60" y2="173.8" stroke="#222" stroke-width="0.6"/>
<line x1="336.2" y1="141.95" x2="338.0" y2="141.95" stroke="#222" stroke-width="0.6"/>
<line x1="380.11" y1="172.0" x2="380.11" y2="173.0" stroke="#222" stroke-width="0.6"/>
<line x1="337.0" y1="137.43" x2="338.0" y2="137.43" stroke="#222" stroke-width="0.6"/>
<line x1="383.33" y1="172.0" x2="383.33" y2="173.0" stroke="#222" stroke-width="0.6"/>
<line x1="337.0" y1="134.78" x2="338.0" y2="134.78" stroke="#222" stroke-width="0.6"/>
<line x1="385.62" y1="172.0" x2="385.62" y2="173.0" stroke="#222" stroke-width="0.6"/>
<line x1="337.0" y1="132.90" x2="338.0" y2="132.90" stroke="#222" stroke-width="0.6"/>
<line x1="387.39" y1="172.0" x2="387.39" y2="173.0" stroke="#222" stroke-width="0.6"/>
<line x1="337.0" y1="131.45" x2="338.0" y2="131.45" stroke="#222" stroke-width="0.6"/>
<line x1="388.84" y1="172.0" x2="388.84" y2="173.0" stroke="#222" stroke-width="0.6"/>
<line x1="337.0" y1="130.26" x2="338.0" y2="130.26" stroke="#222" stroke-width="0.6"/>
<line x1="390.07" y1="172.0" x2="390.07" y2="173.0" stroke="#222" stroke-width="0.6"/>
<line x1="337.0" y1="129.25" x2="338.0" y2="129.25" stroke="#222" stroke-width="0.6"/>
<line x1="391.13" y1="172.0" x2="391.13" y2="173.0" stroke="#222" stroke-width="0.6"/>
<line x1="337.0" y1="128.38" x2="338.0" y2="128.38" stroke="#222" stroke-width="0.6"/>
<line x1="392.06" y1="172.0" x2="392.06" y2="173.0" stroke="#222" stroke-width="0.6"/>
<line x1="337.0" y1="127.61" x2="338.0" y2="127.61" stroke="#222" stroke-width="0.6"/>
<line x1="392.90" y1="172.0" x2="392.90" y2="173.8" stroke="#222" stroke-width="0.6"/>
<line x1="336.2" y1="126.93" x2="338.0" y2="126.93" stroke="#222" stroke-width="0.6"/>
<line x1="398.41" y1="172.0" x2="398.41" y2="173.0" stroke="#222" stroke-width="0.6"/>
<line x1="337.0" y1="122.40" x2="338.0" y2="122.40" stroke="#222" stroke-width="0.6"/>
<line x1="401.63" y1="172.0" x2="401.63" y2="173.0" stroke="#222" stroke-width="0.6"/>
<line x1="337.0" y1="119.76" x2="338.0" y2="119.76" stroke="#222" stroke-width="0.6"/>
<line x1="403.92" y1="172.0" x2="403.92" y2="173.0" stroke="#222" stroke-width="0.6"/>
<line x1="337.0" y1="117.88" x2="338.0" y2="117.88" stroke="#222" stroke-width="0.6"/>
<line x1="405.69" y1="172.0" x2="405.69" y2="173.0" stroke="#222" stroke-width="0.6"/>
<line x1="337.0" y1="116.42" x2="338.0" y2="116.42" stroke="#222" stroke-width="0.6"/>
<line x1="407.14" y1="172.0" x2="407.14" y2="173.0" stroke="#222" stroke-width="0.6"/>
<line x1="337.0" y1="115.23" x2="338.0" y2="115.23" stroke="#222" stroke-width="0.6"/>
<line x1="408.37" y1="172.0" x2="408.37" y2="173.0" stroke="#222" stroke-width="0.6"/>
<line x1="337.0" y1="114.23" x2="338.0" y2="114.23" stroke="#222" stroke-width="0.6"/>
<line x1="409.43" y1="172.0" x2="409.43" y2="173.0" stroke="#222" stroke-width="0.6"/>
<line x1="337.0" y1="113.36" x2="338.0" y2="113.36" stroke="#222" stroke-width="0.6"/>
<line x1="410.36" y1="172.0" x2="410.36" y2="173.0" stroke="#222" stroke-width="0.6"/>
<line x1="337.0" y1="112.59" x2="338.0" y2="112.59" stroke="#222" stroke-width="0.6"/>
<text x="338.40" y="179.0" font-size="5.0" text-anchor="middle" fill="#555" stroke-width="0" style="stroke-width:0">10<tspan font-size="3.7" dy="-2.2">0</tspan></text>
<text transform="translate(334.80 173.50) rotate(-90)" font-size="5.0" text-anchor="middle" fill="#555" stroke-width="0" style="stroke-width:0">10<tspan font-size="3.7" dy="-2.2">0</tspan></text>
<text x="356.70" y="179.0" font-size="5.0" text-anchor="middle" fill="#555" stroke-width="0" style="stroke-width:0">10<tspan font-size="3.7" dy="-2.2">1</tspan></text>
<text transform="translate(334.80 158.47) rotate(-90)" font-size="5.0" text-anchor="middle" fill="#555" stroke-width="0" style="stroke-width:0">10<tspan font-size="3.7" dy="-2.2">1</tspan></text>
<text x="375.00" y="179.0" font-size="5.0" text-anchor="middle" fill="#555" stroke-width="0" style="stroke-width:0">10<tspan font-size="3.7" dy="-2.2">2</tspan></text>
<text transform="translate(334.80 143.45) rotate(-90)" font-size="5.0" text-anchor="middle" fill="#555" stroke-width="0" style="stroke-width:0">10<tspan font-size="3.7" dy="-2.2">2</tspan></text>
<text x="393.30" y="179.0" font-size="5.0" text-anchor="middle" fill="#555" stroke-width="0" style="stroke-width:0">10<tspan font-size="3.7" dy="-2.2">3</tspan></text>
<text transform="translate(334.80 128.43) rotate(-90)" font-size="5.0" text-anchor="middle" fill="#555" stroke-width="0" style="stroke-width:0">10<tspan font-size="3.7" dy="-2.2">3</tspan></text>
<text x="411.60" y="179.0" font-size="5.0" text-anchor="middle" fill="#555" stroke-width="0" style="stroke-width:0">10<tspan font-size="3.7" dy="-2.2">4</tspan></text>
<text transform="translate(334.80 113.40) rotate(-90)" font-size="5.0" text-anchor="middle" fill="#555" stroke-width="0" style="stroke-width:0">10<tspan font-size="3.7" dy="-2.2">4</tspan></text>
<line x1="424.8" y1="112.3" x2="507.3" y2="112.3" stroke="#ccc" stroke-width="1"/>
<line x1="505.8" y1="112.3" x2="505.8" y2="173.3" stroke="#888" stroke-width="1"/>
<line x1="424.8" y1="112.3" x2="424.8" y2="173.3" stroke="#333" stroke-width="1.2"/>
<line x1="424.8" y1="173.3" x2="507.3" y2="173.3" stroke="#222" stroke-width="1.2"/>
<line x1="452.6" y1="112.3" x2="452.6" y2="173.3" stroke="#777" stroke-width="1"/>
<line x1="424.8" y1="152.7" x2="506.8" y2="152.7" stroke="#666" stroke-width="1"/>
<line x1="424.80" y1="173.3" x2="424.80" y2="175.10000000000002" stroke="#222" stroke-width="0.6"/>
<line x1="423.0" y1="173.30" x2="424.8" y2="173.30" stroke="#222" stroke-width="0.6"/>
<line x1="430.90" y1="173.3" x2="430.90" y2="174.3" stroke="#222" stroke-width="0.6"/>
<line x1="423.8" y1="168.71" x2="424.8" y2="168.71" stroke="#222" stroke-width="0.6"/>
<line x1="434.46" y1="173.3" x2="434.46" y2="174.3" stroke="#222" stroke-width="0.6"/>
<line x1="423.8" y1="166.02" x2="424.8" y2="166.02" stroke="#222" stroke-width="0.6"/>
<line x1="436.99" y1="173.3" x2="436.99" y2="174.3" stroke="#222" stroke-width="0.6"/>
<line x1="423.8" y1="164.12" x2="424.8" y2="164.12" stroke="#222" stroke-width="0.6"/>
<line x1="438.95" y1="173.3" x2="438.95" y2="174.3" stroke="#222" stroke-width="0.6"/>
<line x1="423.8" y1="162.64" x2="424.8" y2="162.64" stroke="#222" stroke-width="0.6"/>
<line x1="440.56" y1="173.3" x2="440.56" y2="174.3" stroke="#222" stroke-width="0.6"/>
<line x1="423.8" y1="161.43" x2="424.8" y2="161.43" stroke="#222" stroke-width="0.6"/>
<line x1="441.91" y1="173.3" x2="441.91" y2="174.3" stroke="#222" stroke-width="0.6"/>
<line x1="423.8" y1="160.41" x2="424.8" y2="160.41" stroke="#222" stroke-width="0.6"/>
<line x1="443.09" y1="173.3" x2="443.09" y2="174.3" stroke="#222" stroke-width="0.6"/>
<line x1="423.8" y1="159.53" x2="424.8" y2="159.53" stroke="#222" stroke-width="0.6"/>
<line x1="444.12" y1="173.3" x2="444.12" y2="174.3" stroke="#222" stroke-width="0.6"/>
<line x1="423.8" y1="158.75" x2="424.8" y2="158.75" stroke="#222" stroke-width="0.6"/>
<line x1="445.05" y1="173.3" x2="445.05" y2="175.10000000000002" stroke="#222" stroke-width="0.6"/>
<line x1="423.0" y1="158.05" x2="424.8" y2="158.05" stroke="#222" stroke-width="0.6"/>
<line x1="451.15" y1="173.3" x2="451.15" y2="174.3" stroke="#222" stroke-width="0.6"/>
<line x1="423.8" y1="153.46" x2="424.8" y2="153.46" stroke="#222" stroke-width="0.6"/>
<line x1="454.71" y1="173.3" x2="454.71" y2="174.3" stroke="#222" stroke-width="0.6"/>
<line x1="423.8" y1="150.77" x2="424.8" y2="150.77" stroke="#222" stroke-width="0.6"/>
<line x1="457.24" y1="173.3" x2="457.24" y2="174.3" stroke="#222" stroke-width="0.6"/>
<line x1="423.8" y1="148.87" x2="424.8" y2="148.87" stroke="#222" stroke-width="0.6"/>
<line x1="459.20" y1="173.3" x2="459.20" y2="174.3" stroke="#222" stroke-width="0.6"/>
<line x1="423.8" y1="147.39" x2="424.8" y2="147.39" stroke="#222" stroke-width="0.6"/>
<line x1="460.81" y1="173.3" x2="460.81" y2="174.3" stroke="#222" stroke-width="0.6"/>
<line x1="423.8" y1="146.18" x2="424.8" y2="146.18" stroke="#222" stroke-width="0.6"/>
<line x1="462.16" y1="173.3" x2="462.16" y2="174.3" stroke="#222" stroke-width="0.6"/>
<line x1="423.8" y1="145.16" x2="424.8" y2="145.16" stroke="#222" stroke-width="0.6"/>
<line x1="463.34" y1="173.3" x2="463.34" y2="174.3" stroke="#222" stroke-width="0.6"/>
<line x1="423.8" y1="144.28" x2="424.8" y2="144.28" stroke="#222" stroke-width="0.6"/>
<line x1="464.37" y1="173.3" x2="464.37" y2="174.3" stroke="#222" stroke-width="0.6"/>
<line x1="423.8" y1="143.50" x2="424.8" y2="143.50" stroke="#222" stroke-width="0.6"/>
<line x1="465.30" y1="173.3" x2="465.30" y2="175.10000000000002" stroke="#222" stroke-width="0.6"/>
<line x1="423.0" y1="142.80" x2="424.8" y2="142.80" stroke="#222" stroke-width="0.6"/>
<line x1="471.40" y1="173.3" x2="471.40" y2="174.3" stroke="#222" stroke-width="0.6"/>
<line x1="423.8" y1="138.21" x2="424.8" y2="138.21" stroke="#222" stroke-width="0.6"/>
<line x1="474.96" y1="173.3" x2="474.96" y2="174.3" stroke="#222" stroke-width="0.6"/>
<line x1="423.8" y1="135.52" x2="424.8" y2="135.52" stroke="#222" stroke-width="0.6"/>
<line x1="477.49" y1="173.3" x2="477.49" y2="174.3" stroke="#222" stroke-width="0.6"/>
<line x1="423.8" y1="133.62" x2="424.8" y2="133.62" stroke="#222" stroke-width="0.6"/>
<line x1="479.45" y1="173.3" x2="479.45" y2="174.3" stroke="#222" stroke-width="0.6"/>
<line x1="423.8" y1="132.14" x2="424.8" y2="132.14" stroke="#222" stroke-width="0.6"/>
<line x1="481.06" y1="173.3" x2="481.06" y2="174.3" stroke="#222" stroke-width="0.6"/>
<line x1="423.8" y1="130.93" x2="424.8" y2="130.93" stroke="#222" stroke-width="0.6"/>
<line x1="482.41" y1="173.3" x2="482.41" y2="174.3" stroke="#222" stroke-width="0.6"/>
<line x1="423.8" y1="129.91" x2="424.8" y2="129.91" stroke="#222" stroke-width="0.6"/>
<line x1="483.59" y1="173.3" x2="483.59" y2="174.3" stroke="#222" stroke-width="0.6"/>
<line x1="423.8" y1="129.03" x2="424.8" y2="129.03" stroke="#222" stroke-width="0.6"/>
<line x1="484.62" y1="173.3" x2="484.62" y2="174.3" stroke="#222" stroke-width="0.6"/>
<line x1="423.8" y1="128.25" x2="424.8" y2="128.25" stroke="#222" stroke-width="0.6"/>
<line x1="485.55" y1="173.3" x2="485.55" y2="175.10000000000002" stroke="#222" stroke-width="0.6"/>
<line x1="423.0" y1="127.55" x2="424.8" y2="127.55" stroke="#222" stroke-width="0.6"/>
<line x1="491.65" y1="173.3" x2="491.65" y2="174.3" stroke="#222" stroke-width="0.6"/>
<line x1="423.8" y1="122.96" x2="424.8" y2="122.96" stroke="#222" stroke-width="0.6"/>
<line x1="495.21" y1="173.3" x2="495.21" y2="174.3" stroke="#222" stroke-width="0.6"/>
<line x1="423.8" y1="120.27" x2="424.8" y2="120.27" stroke="#222" stroke-width="0.6"/>
<line x1="497.74" y1="173.3" x2="497.74" y2="174.3" stroke="#222" stroke-width="0.6"/>
<line x1="423.8" y1="118.37" x2="424.8" y2="118.37" stroke="#222" stroke-width="0.6"/>
<line x1="499.70" y1="173.3" x2="499.70" y2="174.3" stroke="#222" stroke-width="0.6"/>
<line x1="423.8" y1="116.89" x2="424.8" y2="116.89" stroke="#222" stroke-width="0.6"/>
<line x1="501.31" y1="173.3" x2="501.31" y2="174.3" stroke="#222" stroke-width="0.6"/>
<line x1="423.8" y1="115.68" x2="424.8" y2="115.68" stroke="#222" stroke-width="0.6"/>
<line x1="502.66" y1="173.3" x2="502.66" y2="174.3" stroke="#222" stroke-width="0.6"/>
<line x1="423.8" y1="114.66" x2="424.8" y2="114.66" stroke="#222" stroke-width="0.6"/>
<line x1="503.84" y1="173.3" x2="503.84" y2="174.3" stroke="#222" stroke-width="0.6"/>
<line x1="423.8" y1="113.78" x2="424.8" y2="113.78" stroke="#222" stroke-width="0.6"/>
<line x1="504.87" y1="173.3" x2="504.87" y2="174.3" stroke="#222" stroke-width="0.6"/>
<line x1="423.8" y1="113.00" x2="424.8" y2="113.00" stroke="#222" stroke-width="0.6"/>
<text x="425.20" y="180.3" font-size="5.0" text-anchor="middle" fill="#555" stroke-width="0" style="stroke-width:0">10<tspan font-size="3.7" dy="-2.2">0</tspan></text>
<text transform="translate(421.60 174.80) rotate(-90)" font-size="5.0" text-anchor="middle" fill="#555" stroke-width="0" style="stroke-width:0">10<tspan font-size="3.7" dy="-2.2">0</tspan></text>
<text x="445.45" y="180.3" font-size="5.0" text-anchor="middle" fill="#555" stroke-width="0" style="stroke-width:0">10<tspan font-size="3.7" dy="-2.2">1</tspan></text>
<text transform="translate(421.60 159.55) rotate(-90)" font-size="5.0" text-anchor="middle" fill="#555" stroke-width="0" style="stroke-width:0">10<tspan font-size="3.7" dy="-2.2">1</tspan></text>
<text x="465.70" y="180.3" font-size="5.0" text-anchor="middle" fill="#555" stroke-width="0" style="stroke-width:0">10<tspan font-size="3.7" dy="-2.2">2</tspan></text>
<text transform="translate(421.60 144.30) rotate(-90)" font-size="5.0" text-anchor="middle" fill="#555" stroke-width="0" style="stroke-width:0">10<tspan font-size="3.7" dy="-2.2">2</tspan></text>
<text x="485.95" y="180.3" font-size="5.0" text-anchor="middle" fill="#555" stroke-width="0" style="stroke-width:0">10<tspan font-size="3.7" dy="-2.2">3</tspan></text>
<text transform="translate(421.60 129.05) rotate(-90)" font-size="5.0" text-anchor="middle" fill="#555" stroke-width="0" style="stroke-width:0">10<tspan font-size="3.7" dy="-2.2">3</tspan></text>
<text x="506.20" y="180.3" font-size="5.0" text-anchor="middle" fill="#555" stroke-width="0" style="stroke-width:0">10<tspan font-size="3.7" dy="-2.2">4</tspan></text>
<text transform="translate(421.60 113.80) rotate(-90)" font-size="5.0" text-anchor="middle" fill="#555" stroke-width="0" style="stroke-width:0">10<tspan font-size="3.7" dy="-2.2">4</tspan></text>
<text x="384.62" y="38.62" font-size="9.39" textLength="21.50" lengthAdjust="spacingAndGlyphs" fill="#111" color="#111" style="stroke-width:0">0.1%</text>
<text x="474.22" y="39.73" font-size="9.82" textLength="27.02" lengthAdjust="spacingAndGlyphs" fill="#111" color="#111" style="stroke-width:0">0.14%</text>
<text x="391.41" y="122.03" font-size="9.54" textLength="17.79" lengthAdjust="spacingAndGlyphs" fill="#111" color="#111" style="stroke-width:0">11%</text>
<text x="479.83" y="122.12" font-size="9.82" textLength="21.19" lengthAdjust="spacingAndGlyphs" fill="#111" color="#111" style="stroke-width:0">3.8%</text>
<text x="354.73" y="188.62" font-size="9.96" textLength="42.75" lengthAdjust="spacingAndGlyphs" fill="#111" color="#111" style="stroke-width:0">CD8-FITC</text>
<text x="446.32" y="188.53" font-size="9.82" textLength="43.36" lengthAdjust="spacingAndGlyphs" fill="#111" color="#111" style="stroke-width:0">CD8-FITC</text>
<text transform="translate(321.93 88.64) rotate(-90)" x="0" y="0" font-size="9.54" textLength="45.62" lengthAdjust="spacingAndGlyphs" fill="#111" color="#111">Isotype-PE</text>
<text transform="translate(321.93 181.85) rotate(-90)" x="0" y="0" font-size="9.54" textLength="73.83" lengthAdjust="spacingAndGlyphs" fill="#111" color="#111">ALY-Tetramer PE</text>
<path d="M389 68h1v1h-1zM361 70h1v1h-1zM365 70h1v1h-1zM391 70h1v1h-1zM383 71h2v1h-2zM386 71h1v1h-1zM391 71h2v1h-2zM394 71h1v1h-1zM397 71h2v1h-2zM370 72h1v1h-1zM385 72h1v1h-1zM390 72h1v1h-1zM392 72h1v1h-1zM394 72h1v1h-1zM397 72h2v1h-2zM362 73h1v1h-1zM370 73h1v1h-1zM377 73h1v1h-1zM382 73h2v1h-2zM386 73h1v1h-1zM388 73h3v1h-3zM392 73h2v1h-2zM395 73h1v1h-1zM397 73h4v1h-4zM358 74h2v1h-2zM361 74h2v1h-2zM366 74h2v1h-2zM369 74h2v1h-2zM374 74h1v1h-1zM377 74h1v1h-1zM379 74h6v1h-6zM386 74h3v1h-3zM392 74h2v1h-2zM395 74h1v1h-1zM397 74h4v1h-4zM402 74h1v1h-1zM346 75h1v1h-1zM357 75h1v1h-1zM365 75h13v1h-13zM379 75h6v1h-6zM386 75h1v1h-1zM390 75h10v1h-10zM401 75h1v1h-1zM345 76h1v1h-1zM347 76h1v1h-1zM349 76h1v1h-1zM352 76h1v1h-1zM354 76h1v1h-1zM357 76h2v1h-2zM360 76h2v1h-2zM363 76h10v1h-10zM375 76h1v1h-1zM377 76h2v1h-2zM380 76h2v1h-2zM383 76h2v1h-2zM386 76h16v1h-16zM352 77h2v1h-2zM357 77h29v1h-29zM387 77h16v1h-16zM343 78h3v1h-3zM347 78h2v1h-2zM354 78h1v1h-1zM356 78h3v1h-3zM361 78h20v1h-20zM382 78h21v1h-21zM344 79h1v1h-1zM353 79h2v1h-2zM356 79h4v1h-4zM361 79h41v1h-41zM341 80h1v1h-1zM344 80h4v1h-4zM351 80h4v1h-4zM356 80h2v1h-2zM359 80h39v1h-39zM399 80h4v1h-4zM341 81h1v1h-1zM344 81h1v1h-1zM346 81h6v1h-6zM353 81h4v1h-4zM358 81h31v1h-31zM390 81h12v1h-12zM341 82h1v1h-1zM343 82h1v1h-1zM346 82h2v1h-2zM349 82h1v1h-1zM351 82h7v1h-7zM359 82h3v1h-3zM363 82h7v1h-7zM371 82h14v1h-14zM386 82h17v1h-17zM340 83h1v1h-1zM342 83h1v1h-1zM345 83h7v1h-7zM355 83h3v1h-3zM359 83h44v1h-44zM341 84h2v1h-2zM344 84h2v1h-2zM347 84h2v1h-2zM351 84h3v1h-3zM356 84h5v1h-5zM363 84h40v1h-40zM339 85h1v1h-1zM341 85h2v1h-2zM344 85h4v1h-4zM350 85h4v1h-4zM355 85h49v1h-49zM341 86h1v1h-1zM343 86h1v1h-1zM345 86h4v1h-4zM350 86h5v1h-5zM356 86h3v1h-3zM360 86h12v1h-12zM373 86h10v1h-10zM384 86h20v1h-20zM339 87h1v1h-1zM341 87h2v1h-2zM346 87h10v1h-10zM357 87h4v1h-4zM362 87h40v1h-40zM340 88h1v1h-1zM343 88h1v1h-1zM348 88h54v1h-54zM340 89h2v1h-2zM343 89h2v1h-2zM346 89h14v1h-14zM362 89h41v1h-41zM344 90h1v1h-1zM349 90h7v1h-7zM358 90h1v1h-1zM360 90h3v1h-3zM365 90h6v1h-6zM372 90h13v1h-13zM386 90h17v1h-17zM340 91h3v1h-3zM344 91h4v1h-4zM349 91h1v1h-1zM351 91h2v1h-2zM354 91h6v1h-6zM363 91h24v1h-24zM388 91h1v1h-1zM390 91h12v1h-12zM341 92h2v1h-2zM344 92h1v1h-1zM348 92h10v1h-10zM359 92h1v1h-1zM361 92h3v1h-3zM365 92h1v1h-1zM367 92h35v1h-35zM340 93h1v1h-1zM344 93h1v1h-1zM347 93h1v1h-1zM349 93h1v1h-1zM351 93h2v1h-2zM354 93h1v1h-1zM358 93h1v1h-1zM360 93h1v1h-1zM362 93h40v1h-40zM404 93h1v1h-1z" fill="#000"/>
<path d="M486 68h1v1h-1zM469 70h1v1h-1zM472 71h1v1h-1zM474 71h1v1h-1zM476 71h1v1h-1zM479 71h3v1h-3zM484 71h1v1h-1zM444 72h1v1h-1zM453 72h1v1h-1zM463 72h1v1h-1zM474 72h2v1h-2zM480 72h2v1h-2zM485 72h1v1h-1zM487 72h7v1h-7zM465 73h1v1h-1zM475 73h1v1h-1zM478 73h4v1h-4zM483 73h1v1h-1zM485 73h3v1h-3zM489 73h2v1h-2zM493 73h1v1h-1zM460 74h1v1h-1zM464 74h1v1h-1zM473 74h1v1h-1zM475 74h1v1h-1zM477 74h2v1h-2zM480 74h2v1h-2zM483 74h11v1h-11zM495 74h1v1h-1zM445 75h1v1h-1zM448 75h1v1h-1zM459 75h1v1h-1zM461 75h2v1h-2zM466 75h2v1h-2zM469 75h3v1h-3zM476 75h1v1h-1zM478 75h2v1h-2zM481 75h14v1h-14zM447 76h1v1h-1zM449 76h2v1h-2zM452 76h2v1h-2zM457 76h2v1h-2zM463 76h1v1h-1zM465 76h1v1h-1zM467 76h4v1h-4zM472 76h4v1h-4zM477 76h18v1h-18zM440 77h1v1h-1zM442 77h1v1h-1zM446 77h1v1h-1zM448 77h1v1h-1zM452 77h2v1h-2zM456 77h1v1h-1zM458 77h5v1h-5zM464 77h1v1h-1zM467 77h30v1h-30zM437 78h1v1h-1zM441 78h1v1h-1zM443 78h3v1h-3zM447 78h20v1h-20zM468 78h6v1h-6zM475 78h21v1h-21zM438 79h1v1h-1zM440 79h1v1h-1zM442 79h1v1h-1zM446 79h1v1h-1zM448 79h1v1h-1zM450 79h5v1h-5zM456 79h6v1h-6zM463 79h4v1h-4zM468 79h28v1h-28zM497 79h1v1h-1zM435 80h5v1h-5zM441 80h7v1h-7zM449 80h6v1h-6zM457 80h9v1h-9zM467 80h6v1h-6zM474 80h17v1h-17zM492 80h4v1h-4zM432 81h1v1h-1zM436 81h2v1h-2zM440 81h2v1h-2zM443 81h1v1h-1zM445 81h6v1h-6zM453 81h15v1h-15zM469 81h26v1h-26zM431 82h4v1h-4zM437 82h1v1h-1zM439 82h2v1h-2zM442 82h10v1h-10zM453 82h2v1h-2zM456 82h9v1h-9zM467 82h29v1h-29zM497 82h1v1h-1zM431 83h1v1h-1zM433 83h2v1h-2zM436 83h3v1h-3zM440 83h1v1h-1zM442 83h1v1h-1zM444 83h5v1h-5zM453 83h17v1h-17zM471 83h22v1h-22zM494 83h2v1h-2zM427 84h1v1h-1zM434 84h6v1h-6zM441 84h5v1h-5zM447 84h6v1h-6zM455 84h4v1h-4zM460 84h1v1h-1zM462 84h1v1h-1zM464 84h22v1h-22zM487 84h11v1h-11zM428 85h1v1h-1zM430 85h1v1h-1zM433 85h3v1h-3zM437 85h2v1h-2zM440 85h2v1h-2zM444 85h2v1h-2zM447 85h6v1h-6zM454 85h8v1h-8zM463 85h31v1h-31zM495 85h1v1h-1zM430 86h1v1h-1zM432 86h2v1h-2zM435 86h5v1h-5zM441 86h3v1h-3zM445 86h3v1h-3zM450 86h10v1h-10zM462 86h2v1h-2zM465 86h23v1h-23zM489 86h8v1h-8zM433 87h2v1h-2zM436 87h1v1h-1zM439 87h2v1h-2zM442 87h1v1h-1zM446 87h1v1h-1zM448 87h2v1h-2zM451 87h10v1h-10zM462 87h1v1h-1zM464 87h33v1h-33zM433 88h3v1h-3zM440 88h8v1h-8zM449 88h4v1h-4zM456 88h8v1h-8zM465 88h31v1h-31zM432 89h1v1h-1zM434 89h4v1h-4zM439 89h1v1h-1zM441 89h1v1h-1zM443 89h3v1h-3zM447 89h2v1h-2zM451 89h5v1h-5zM457 89h5v1h-5zM464 89h10v1h-10zM476 89h20v1h-20zM431 90h1v1h-1zM434 90h2v1h-2zM437 90h3v1h-3zM441 90h2v1h-2zM444 90h2v1h-2zM448 90h3v1h-3zM452 90h6v1h-6zM459 90h2v1h-2zM463 90h33v1h-33zM428 91h1v1h-1zM430 91h2v1h-2zM434 91h2v1h-2zM437 91h2v1h-2zM441 91h1v1h-1zM443 91h4v1h-4zM448 91h3v1h-3zM452 91h1v1h-1zM454 91h5v1h-5zM461 91h2v1h-2zM465 91h5v1h-5zM471 91h6v1h-6zM478 91h17v1h-17zM432 92h1v1h-1zM436 92h1v1h-1zM438 92h3v1h-3zM445 92h1v1h-1zM449 92h5v1h-5zM455 92h1v1h-1zM458 92h2v1h-2zM461 92h5v1h-5zM469 92h2v1h-2zM472 92h2v1h-2zM475 92h15v1h-15zM491 92h5v1h-5zM431 93h6v1h-6zM438 93h1v1h-1zM440 93h2v1h-2zM443 93h1v1h-1zM445 93h5v1h-5zM452 93h5v1h-5zM459 93h2v1h-2zM462 93h2v1h-2zM465 93h16v1h-16zM482 93h15v1h-15zM433 94h4v1h-4zM439 94h5v1h-5zM451 94h4v1h-4zM456 94h1v1h-1zM458 94h7v1h-7zM466 94h16v1h-16zM483 94h13v1h-13z" fill="#000"/>
<path d="M387 129h1v1h-1zM395 129h1v1h-1zM385 131h1v1h-1zM387 131h2v1h-2zM390 131h1v1h-1zM395 131h1v1h-1zM386 132h1v1h-1zM389 132h5v1h-5zM397 132h1v1h-1zM385 133h1v1h-1zM388 133h10v1h-10zM399 133h1v1h-1zM386 134h13v1h-13zM384 135h16v1h-16zM384 136h16v1h-16zM384 137h2v1h-2zM387 137h13v1h-13zM383 138h1v1h-1zM385 138h17v1h-17zM384 139h17v1h-17zM384 140h17v1h-17zM383 141h15v1h-15zM399 141h2v1h-2zM384 142h17v1h-17zM383 143h4v1h-4zM388 143h12v1h-12zM402 143h1v1h-1zM384 144h16v1h-16zM401 144h1v1h-1zM384 145h7v1h-7zM392 145h9v1h-9zM384 146h16v1h-16zM385 147h16v1h-16zM383 148h1v1h-1zM385 148h16v1h-16zM366 149h1v1h-1zM374 149h2v1h-2zM379 149h1v1h-1zM384 149h17v1h-17zM379 150h1v1h-1zM382 150h1v1h-1zM384 150h18v1h-18zM358 151h1v1h-1zM364 151h1v1h-1zM367 151h1v1h-1zM371 151h1v1h-1zM373 151h1v1h-1zM377 151h1v1h-1zM381 151h1v1h-1zM383 151h1v1h-1zM385 151h16v1h-16zM359 152h2v1h-2zM362 152h3v1h-3zM370 152h2v1h-2zM376 152h2v1h-2zM379 152h2v1h-2zM384 152h17v1h-17zM349 153h1v1h-1zM354 153h1v1h-1zM360 153h1v1h-1zM363 153h1v1h-1zM365 153h1v1h-1zM368 153h5v1h-5zM374 153h4v1h-4zM379 153h2v1h-2zM383 153h16v1h-16zM400 153h1v1h-1zM349 154h1v1h-1zM357 154h1v1h-1zM359 154h7v1h-7zM367 154h34v1h-34zM402 154h1v1h-1zM350 155h3v1h-3zM354 155h1v1h-1zM358 155h1v1h-1zM360 155h2v1h-2zM363 155h10v1h-10zM374 155h22v1h-22zM397 155h4v1h-4zM349 156h1v1h-1zM351 156h1v1h-1zM353 156h8v1h-8zM363 156h39v1h-39zM344 157h1v1h-1zM346 157h14v1h-14zM361 157h39v1h-39zM344 158h1v1h-1zM348 158h54v1h-54zM342 159h2v1h-2zM346 159h13v1h-13zM360 159h18v1h-18zM379 159h22v1h-22zM342 160h3v1h-3zM346 160h3v1h-3zM350 160h8v1h-8zM359 160h4v1h-4zM364 160h18v1h-18zM383 160h18v1h-18zM342 161h1v1h-1zM346 161h2v1h-2zM349 161h16v1h-16zM366 161h33v1h-33zM400 161h1v1h-1zM341 162h1v1h-1zM344 162h1v1h-1zM347 162h5v1h-5zM353 162h10v1h-10zM364 162h13v1h-13zM378 162h22v1h-22zM343 163h1v1h-1zM347 163h2v1h-2zM350 163h9v1h-9zM360 163h36v1h-36zM397 163h4v1h-4zM340 164h1v1h-1zM344 164h1v1h-1zM347 164h54v1h-54zM341 165h2v1h-2zM344 165h1v1h-1zM346 165h3v1h-3zM350 165h2v1h-2zM353 165h1v1h-1zM355 165h35v1h-35zM391 165h2v1h-2zM394 165h8v1h-8zM342 166h1v1h-1zM345 166h3v1h-3zM349 166h3v1h-3zM353 166h11v1h-11zM365 166h2v1h-2zM368 166h32v1h-32zM401 166h1v1h-1zM341 167h2v1h-2zM344 167h39v1h-39zM384 167h17v1h-17zM340 168h1v1h-1zM342 168h2v1h-2zM345 168h4v1h-4zM350 168h13v1h-13zM364 168h4v1h-4zM369 168h33v1h-33zM341 169h1v1h-1zM344 169h1v1h-1zM346 169h56v1h-56zM342 170h2v1h-2zM345 170h2v1h-2zM348 170h53v1h-53zM342 171h2v1h-2zM345 171h6v1h-6zM352 171h8v1h-8zM361 171h40v1h-40z" fill="#000"/>
<path d="M487 133h1v1h-1zM485 134h3v1h-3zM489 134h1v1h-1zM491 134h1v1h-1zM488 135h1v1h-1zM492 135h1v1h-1zM486 136h1v1h-1zM488 136h1v1h-1zM484 137h2v1h-2zM487 137h2v1h-2zM491 137h1v1h-1zM481 138h5v1h-5zM488 138h3v1h-3zM481 139h2v1h-2zM484 139h7v1h-7zM480 140h13v1h-13zM480 141h13v1h-13zM479 142h14v1h-14zM479 143h15v1h-15zM478 144h14v1h-14zM493 144h1v1h-1zM459 145h1v1h-1zM478 145h15v1h-15zM462 146h1v1h-1zM469 146h1v1h-1zM479 146h15v1h-15zM478 147h17v1h-17zM467 148h1v1h-1zM471 148h1v1h-1zM479 148h15v1h-15zM472 149h1v1h-1zM478 149h16v1h-16zM457 150h1v1h-1zM461 150h1v1h-1zM463 150h1v1h-1zM465 150h1v1h-1zM468 150h1v1h-1zM470 150h4v1h-4zM477 150h18v1h-18zM456 151h1v1h-1zM460 151h4v1h-4zM466 151h1v1h-1zM469 151h2v1h-2zM474 151h1v1h-1zM477 151h17v1h-17zM495 151h1v1h-1zM441 152h1v1h-1zM445 152h1v1h-1zM447 152h3v1h-3zM452 152h1v1h-1zM454 152h2v1h-2zM457 152h1v1h-1zM461 152h3v1h-3zM465 152h4v1h-4zM472 152h5v1h-5zM478 152h13v1h-13zM492 152h1v1h-1zM439 153h1v1h-1zM443 153h2v1h-2zM447 153h2v1h-2zM452 153h1v1h-1zM455 153h9v1h-9zM465 153h4v1h-4zM470 153h24v1h-24zM441 154h1v1h-1zM444 154h1v1h-1zM446 154h2v1h-2zM449 154h7v1h-7zM457 154h3v1h-3zM461 154h2v1h-2zM464 154h7v1h-7zM472 154h21v1h-21zM441 155h3v1h-3zM448 155h4v1h-4zM453 155h15v1h-15zM469 155h2v1h-2zM472 155h22v1h-22zM432 156h2v1h-2zM435 156h4v1h-4zM441 156h3v1h-3zM445 156h2v1h-2zM448 156h13v1h-13zM462 156h9v1h-9zM472 156h21v1h-21zM436 157h1v1h-1zM438 157h2v1h-2zM441 157h54v1h-54zM432 158h1v1h-1zM434 158h2v1h-2zM437 158h7v1h-7zM446 158h40v1h-40zM487 158h5v1h-5zM433 159h2v1h-2zM436 159h5v1h-5zM442 159h2v1h-2zM447 159h47v1h-47zM431 160h1v1h-1zM435 160h2v1h-2zM438 160h1v1h-1zM440 160h4v1h-4zM445 160h2v1h-2zM448 160h14v1h-14zM463 160h31v1h-31zM425 161h1v1h-1zM429 161h1v1h-1zM434 161h7v1h-7zM442 161h51v1h-51zM427 162h15v1h-15zM443 162h3v1h-3zM447 162h47v1h-47zM428 163h1v1h-1zM431 163h6v1h-6zM439 163h2v1h-2zM443 163h4v1h-4zM448 163h43v1h-43zM492 163h2v1h-2zM426 164h2v1h-2zM429 164h1v1h-1zM431 164h7v1h-7zM440 164h31v1h-31zM472 164h21v1h-21zM425 165h1v1h-1zM427 165h2v1h-2zM430 165h8v1h-8zM439 165h54v1h-54zM427 166h4v1h-4zM432 166h7v1h-7zM440 166h7v1h-7zM448 166h46v1h-46zM427 167h2v1h-2zM430 167h5v1h-5zM436 167h12v1h-12zM449 167h6v1h-6zM456 167h31v1h-31zM488 167h5v1h-5zM425 168h1v1h-1zM430 168h4v1h-4zM435 168h20v1h-20zM456 168h39v1h-39zM425 169h1v1h-1zM427 169h4v1h-4zM432 169h7v1h-7zM440 169h6v1h-6zM447 169h12v1h-12zM460 169h34v1h-34zM425 170h1v1h-1zM427 170h2v1h-2zM431 170h1v1h-1zM433 170h61v1h-61zM425 171h1v1h-1zM430 171h1v1h-1zM432 171h3v1h-3zM436 171h1v1h-1zM439 171h6v1h-6zM446 171h3v1h-3zM450 171h44v1h-44zM426 172h1v1h-1zM428 172h1v1h-1zM430 172h1v1h-1zM432 172h4v1h-4zM437 172h10v1h-10zM448 172h47v1h-47z" fill="#000"/>
<path d="M377 69h1v1h-1zM390 67h1v1h-1zM378 70h1v1h-1zM395 67h1v1h-1zM387 64h1v1h-1zM372 66h1v1h-1zM389 63h1v1h-1zM395 64h1v1h-1zM379 62h1v1h-1zM401 69h1v1h-1zM397 68h1v1h-1zM373 65h1v1h-1zM386 63h1v1h-1zM400 66h1v1h-1zM376 70h1v1h-1zM376 71h1v1h-1z" fill="#c4c4c4"/>
<path d="M491 48h1v1h-1zM469 71h1v1h-1zM472 47h1v1h-1zM484 53h1v1h-1zM489 50h1v1h-1zM491 53h1v1h-1zM482 69h1v1h-1zM484 69h1v1h-1zM485 45h1v1h-1zM489 60h1v1h-1zM475 49h1v1h-1zM488 60h1v1h-1zM491 65h1v1h-1zM491 59h1v1h-1zM485 61h1v1h-1zM474 70h1v1h-1z" fill="#bbb"/>
<path d="M443 61h1v1h-1zM458 62h1v1h-1zM444 65h1v1h-1zM453 62h1v1h-1zM452 69h1v1h-1zM444 62h1v1h-1z" fill="#aaa"/>
<path d="M383 150h1v1h-1zM382 138h1v1h-1zM377 143h1v1h-1zM376 139h1v1h-1zM369 143h1v1h-1zM370 143h1v1h-1zM366 138h1v1h-1zM379 143h1v1h-1z" fill="#999"/>
<path d="M475 150h1v1h-1zM462 152h1v1h-1zM463 147h1v1h-1zM460 148h1v1h-1zM462 148h1v1h-1zM475 148h1v1h-1zM469 150h1v1h-1zM482 139h1v1h-1zM470 151h1v1h-1zM476 144h1v1h-1zM465 151h1v1h-1zM460 148h1v1h-1zM478 139h1v1h-1zM466 142h1v1h-1zM471 143h1v1h-1zM479 151h1v1h-1zM466 150h1v1h-1zM460 138h1v1h-1zM474 149h1v1h-1zM478 152h1v1h-1zM479 141h1v1h-1zM476 151h1v1h-1zM460 144h1v1h-1zM462 139h1v1h-1zM470 147h1v1h-1zM481 139h1v1h-1zM470 152h1v1h-1zM476 145h1v1h-1zM464 146h1v1h-1zM464 147h1v1h-1zM474 143h1v1h-1zM477 143h1v1h-1zM469 149h1v1h-1zM464 140h1v1h-1zM472 144h1v1h-1zM479 141h1v1h-1zM467 138h1v1h-1zM469 142h1v1h-1z" fill="#666"/>
<path d="M482 136h1v1h-1zM489 130h1v1h-1zM468 138h1v1h-1zM474 132h1v1h-1zM486 130h1v1h-1zM488 134h1v1h-1zM468 139h1v1h-1zM480 129h1v1h-1zM486 137h1v1h-1zM484 136h1v1h-1zM490 128h1v1h-1zM489 136h1v1h-1zM472 135h1v1h-1zM474 136h1v1h-1zM483 134h1v1h-1zM468 133h1v1h-1z" fill="#888"/>
<path d="M484 138h1v1h-1zM491 131h1v1h-1zM492 135h1v1h-1zM479 139h1v1h-1zM482 132h1v1h-1zM485 135h1v1h-1zM480 136h1v1h-1zM491 134h1v1h-1zM491 135h1v1h-1zM491 131h1v1h-1zM484 134h1v1h-1zM480 139h1v1h-1zM488 130h1v1h-1zM487 133h1v1h-1z" fill="#555"/>
<path d="M461 142h1v1h-1zM452 147h1v1h-1zM449 149h1v1h-1zM462 141h1v1h-1zM460 146h1v1h-1zM459 151h1v1h-1z" fill="#aaa"/>
</svg></body></html>
